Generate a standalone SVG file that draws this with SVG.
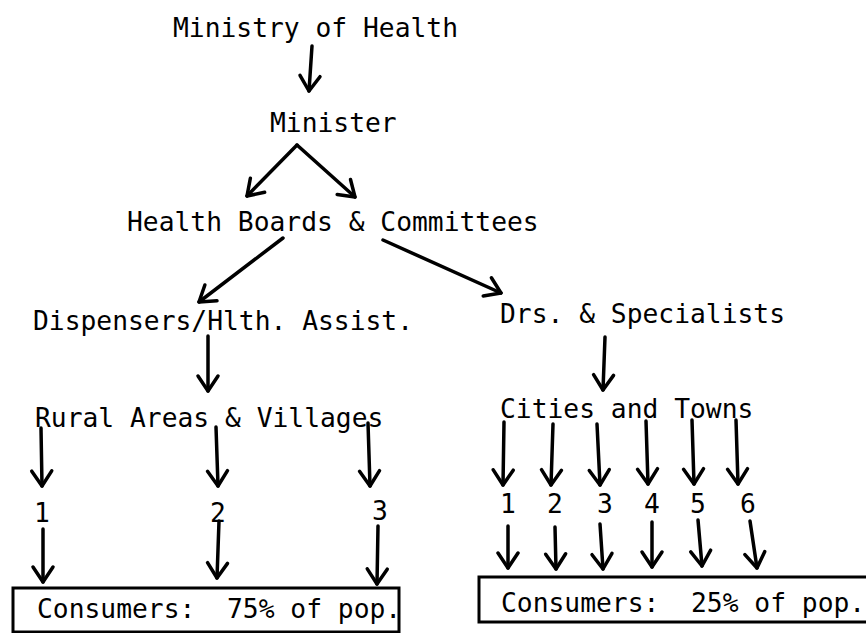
<svg xmlns="http://www.w3.org/2000/svg" width="866" height="633" viewBox="0 0 866 633">
  <style>
    text { font-family: "DejaVu Sans Mono", "Liberation Mono", monospace; font-size: 26.3px; fill: #000; }
    .num { text-anchor: middle; }
    .arrow { fill: none; stroke: #000; stroke-width: 3.5; stroke-linecap: round; marker-end: url(#vhead); }
    .box { fill: #fff; stroke: #000; stroke-width: 3; }
  </style>
  <defs>
    <!-- open V arrowhead shared by every connector -->
    <marker id="vhead" markerUnits="userSpaceOnUse" markerWidth="30" markerHeight="30" viewBox="-20 -15 25 30" refX="0" refY="0" orient="auto" overflow="visible">
      <path d="M-15,-10 L0,0 L-15,10" fill="none" stroke="#000" stroke-width="3.5" stroke-linecap="round" stroke-linejoin="round"/>
    </marker>
  </defs>
  <rect width="866" height="633" fill="#fff"/>

  <!-- hierarchy levels -->
  <g id="ministry"><text x="173" y="37">Ministry of Health</text></g>
  <g id="minister"><text x="270" y="132">Minister</text></g>
  <g id="boards"><text x="127" y="231">Health Boards &amp; Committees</text></g>
  <g id="dispensers"><text x="33" y="330">Dispensers/Hlth. Assist.</text></g>
  <g id="doctors"><text x="500" y="323">Drs. &amp; Specialists</text></g>
  <g id="rural"><text x="35" y="427">Rural Areas &amp; Villages</text></g>
  <g id="cities"><text x="500" y="418">Cities and Towns</text></g>

  <!-- numbered rural units -->
  <g id="rural-1"><text class="num" x="42" y="522">1</text></g>
  <g id="rural-2"><text class="num" x="218" y="522">2</text></g>
  <g id="rural-3"><text class="num" x="380" y="520">3</text></g>

  <!-- numbered urban units -->
  <g id="city-1"><text class="num" x="508" y="513">1</text></g>
  <g id="city-2"><text class="num" x="555" y="513">2</text></g>
  <g id="city-3"><text class="num" x="605" y="513">3</text></g>
  <g id="city-4"><text class="num" x="652" y="513">4</text></g>
  <g id="city-5"><text class="num" x="698" y="513">5</text></g>
  <g id="city-6"><text class="num" x="748" y="513">6</text></g>

  <!-- consumer boxes -->
  <g id="consumers-rural">
    <rect class="box" x="13" y="588" width="386" height="44"/>
    <text x="37" y="618" xml:space="preserve">Consumers:  75% of pop.</text>
  </g>
  <g id="consumers-urban">
    <rect class="box" x="479" y="577" width="400" height="45"/>
    <text x="501" y="612" xml:space="preserve">Consumers:  25% of pop.</text>
  </g>

  <!-- connectors -->
  <g id="connectors">
    <path class="arrow" d="M312,46 L309,91"/>
    <path class="arrow" d="M297,145 L247,196"/>
    <path class="arrow" d="M297,145 L355,197"/>
    <path class="arrow" d="M283,238 L199,302"/>
    <path class="arrow" d="M383,240 L501,293"/>
    <path class="arrow" d="M208,336 L208,391"/>
    <path class="arrow" d="M605,337 L603,390"/>

    <!-- rural branches -->
    <path class="arrow" d="M41,428 L42,486"/>
    <path class="arrow" d="M216,427 L218,486"/>
    <path class="arrow" d="M368,423 L370,486"/>
    <path class="arrow" d="M43,529 L43,582"/>
    <path class="arrow" d="M219,521 L217,578"/>
    <path class="arrow" d="M378,526 L377,584"/>

    <!-- urban branches -->
    <path class="arrow" d="M504,422 L503,485"/>
    <path class="arrow" d="M553,424 L551,485"/>
    <path class="arrow" d="M597,424 L600,485"/>
    <path class="arrow" d="M646,421 L648,484"/>
    <path class="arrow" d="M692,420 L694,484"/>
    <path class="arrow" d="M736,420 L738,484"/>
    <path class="arrow" d="M508,526 L508,568"/>
    <path class="arrow" d="M555,527 L556,569"/>
    <path class="arrow" d="M600,524 L603,569"/>
    <path class="arrow" d="M652,522 L652,567"/>
    <path class="arrow" d="M698,520 L702,566"/>
    <path class="arrow" d="M750,521 L757,568"/>
  </g>
</svg>
